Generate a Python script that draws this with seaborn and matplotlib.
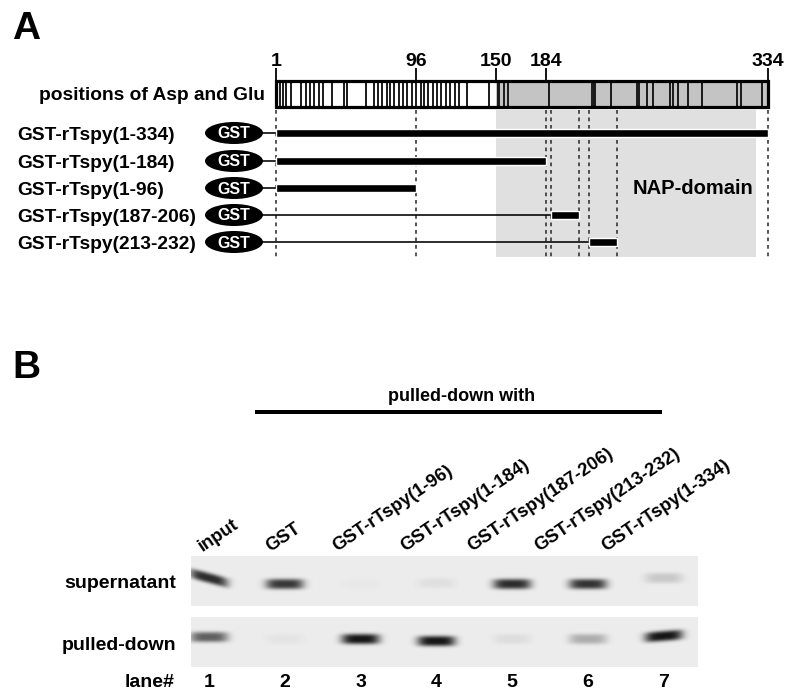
import numpy as np
import matplotlib
matplotlib.use("Agg")
import matplotlib.pyplot as plt
from matplotlib.patches import Rectangle, Ellipse
from matplotlib.colors import LinearSegmentedColormap
import seaborn as sns

# ---- data: panel A (residue numbers of rTspy) ----
protein_len = 334
tick_res = [1, 96, 150, 184, 334]
asp_glu = [4, 6, 8, 11, 18, 21, 24, 27, 30, 33, 39, 47, 49, 62, 67, 70, 73, 76, 78,
           81, 84, 87, 90, 93, 96, 99, 101, 104, 107, 110, 113, 116, 119, 122, 125,
           130, 145, 151, 152, 155, 158, 186, 215, 216, 217, 228, 245, 247, 252,
           256, 268, 270, 273, 280, 289, 313, 316, 330]
construct_names = ["GST-rTspy(1-334)", "GST-rTspy(1-184)", "GST-rTspy(1-96)",
                   "GST-rTspy(187-206)", "GST-rTspy(213-232)"]
construct_start = [1, 1, 1, 187, 213]
construct_end = [334, 184, 96, 206, 232]
dashed_res = [1, 96, 184, 187, 206, 213, 232, 334]
nap_start, nap_end = 150, 326

# ---- data: panel B (western blot) ----
lanes = [1, 2, 3, 4, 5, 6, 7]
lane_labels = ["input", "GST", "GST-rTspy(1-96)", "GST-rTspy(1-184)",
               "GST-rTspy(187-206)", "GST-rTspy(213-232)", "GST-rTspy(1-334)"]
sup_intensity = [0.85, 0.80, 0.02, 0.06, 0.85, 0.82, 0.16]
pd_intensity = [0.62, 0.04, 0.95, 0.95, 0.07, 0.28, 0.95]
sup_shift = [22, 28, 28, 27, 28, 28, 22]   # band centre, px from strip top
pd_shift = [20, 22, 22, 24, 22, 22, 19]
sup_tilt = [5, 0, 0, 0, 0, 0, 0]
pd_tilt = [0, 0, 0, 0, 0, 0, -1.5]

sns.set_style("white")
plt.rcParams["font.family"] = ["Liberation Sans", "DejaVu Sans"]
plt.rcParams["font.weight"] = "bold"
plt.rcParams["text.color"] = "black"

W, H = 794, 700
fig = plt.figure(figsize=(W / 100, H / 100), dpi=100)
PT = 0.72  # points per pixel

# ================= panel A =================
ax_a = fig.add_axes([0, 0, 1, 1])
ax_a.axis("off")
ppr = 492 / (protein_len - 1)          # pixels per residue
x0 = 1 - 276 / ppr
ax_a.set_xlim(x0, x0 + W / ppr)
ax_a.set_ylim(H, 0)


def rx(px):
    return x0 + px / ppr


ax_a.text(rx(12), 39, "A", fontsize=28, fontweight="bold", va="baseline")

# Asp / Glu bar
bar_top, bar_bot = 81, 107
ax_a.add_patch(Rectangle((1, bar_top), protein_len - 1, bar_bot - bar_top,
                         facecolor="white", edgecolor="none", zorder=1))
ax_a.add_patch(Rectangle((nap_start, bar_top), protein_len - nap_start, bar_bot - bar_top,
                         facecolor="#c4c4c4", edgecolor="none", zorder=1))
ax_a.vlines(asp_glu, bar_top, bar_bot, color="#1a1a1a", lw=1.4, zorder=2)
ax_a.add_patch(Rectangle((1, bar_top), protein_len - 1, bar_bot - bar_top,
                         facecolor="none", edgecolor="black", lw=3.2 * PT, zorder=3))
ax_a.vlines(tick_res, 68, bar_top, color="black", lw=1.8 * PT, zorder=3)
for r in tick_res:
    ax_a.text(r, 66, str(r), fontsize=14, fontweight="bold", ha="center", va="baseline")
ax_a.text(rx(265), 100, "positions of Asp and Glu", fontsize=13.8, fontweight="bold",
          ha="right", va="baseline")

# NAP domain shading and dashed guides
ax_a.add_patch(Rectangle((nap_start, 110), nap_end - nap_start, 147,
                         facecolor="#e0e0e0", edgecolor="none", zorder=0))
ax_a.vlines(dashed_res, 110, 258, color="#222222", lw=1.5 * PT,
            linestyles=(0, (2.5, 2.5)), zorder=1)
ax_a.text(rx(693), 194, "NAP-domain", fontsize=14.5, fontweight="bold",
          ha="center", va="baseline")

# constructs
rows = [133, 161, 188, 215, 242]
for name, s, e, y in zip(construct_names, construct_start, construct_end, rows):
    ax_a.text(rx(17), y + 7, name, fontsize=13.8, fontweight="bold", va="baseline")
    ax_a.add_patch(Ellipse((rx(234), y), 58 / ppr, 22, facecolor="black",
                           edgecolor="none", zorder=4))
    ax_a.text(rx(234), y + 5.5, "GST", fontsize=11.5, fontweight="bold", color="white",
              ha="center", va="baseline", zorder=5)
    ax_a.hlines(y, rx(262), s, color="black", lw=1.6 * PT, zorder=3)
ax_a.barh(rows, np.array(construct_end) - np.array(construct_start),
          left=construct_start, height=8, color="black", zorder=3)

# ================= panel B =================
ax_b = fig.add_axes([0, 0, 1, 1])
ax_b.axis("off")
lane_px0, lane_step = 209, 75.8
ax_b.set_xlim(1 - lane_px0 / lane_step, 1 + (W - lane_px0) / lane_step)
ax_b.set_ylim(H, 0)


def lx(px):
    return 1 + (px - lane_px0) / lane_step


ax_b.text(lx(12), 378, "B", fontsize=28, fontweight="bold", va="baseline")
ax_b.text(lx(462), 401, "pulled-down with", fontsize=13, fontweight="bold",
          ha="center", va="baseline")
ax_b.hlines(412, lx(255), lx(662), color="black", lw=4 * PT)

for i, lab in enumerate(lane_labels):
    ax_b.text(lx(203 + i * 67.2), 552, lab, fontsize=13.2, fontweight="bold",
              rotation=34, rotation_mode="anchor", ha="left", va="baseline")

ax_b.text(lx(176), 588, "supernatant", fontsize=14, fontweight="bold",
          ha="right", va="baseline")
ax_b.text(lx(176), 650, "pulled-down", fontsize=14, fontweight="bold",
          ha="right", va="baseline")
ax_b.text(lx(175), 687, "lane#", fontsize=14, fontweight="bold",
          ha="right", va="baseline")
for ln in lanes:
    ax_b.text(ln, 687, str(ln), fontsize=14, fontweight="bold", ha="center", va="baseline")

# arrowhead pointing at the weak band in lane 6
ax_b.fill([lx(608), lx(632), lx(632)], [639, 632, 646], color="black", lw=0)

# blot strips drawn as heatmaps
blot_cmap = LinearSegmentedColormap.from_list("blot", ["#ececec", "#0a0a0a"])
strip_left, strip_w, strip_h = 191, 507, 50
lane_px = [lane_px0 + (ln - 1) * lane_step for ln in lanes]


def strip_image(intensity, shift, tilt):
    cols = np.arange(strip_w) + strip_left + 0.5
    rws = np.arange(strip_h) + 0.5
    img = np.zeros((strip_h, strip_w))
    for cx, amp, cy, t in zip(lane_px, intensity, shift, tilt):
        dx = (cols - cx) / 19.0
        prof_x = np.exp(-np.abs(dx) ** 4)
        centre = cy + t * np.clip(dx, -1, 1)
        dy = (rws[:, None] - centre[None, :]) / 5.2
        prof = np.exp(-np.abs(dy) ** 3) * prof_x[None, :]
        img += amp * prof
    return np.clip(img, 0, 1)


for top, inten, sh, tl in [(556, sup_intensity, sup_shift, sup_tilt),
                           (617, pd_intensity, pd_shift, pd_tilt)]:
    ax_s = fig.add_axes([strip_left / W, 1 - (top + strip_h) / H, strip_w / W, strip_h / H])
    sns.heatmap(strip_image(inten, sh, tl), ax=ax_s, cmap=blot_cmap, vmin=0, vmax=1,
                cbar=False, xticklabels=False, yticklabels=False, rasterized=True)
    ax_s.set_xticks([])
    ax_s.set_yticks([])

fig.savefig("out.png", dpi=100)
